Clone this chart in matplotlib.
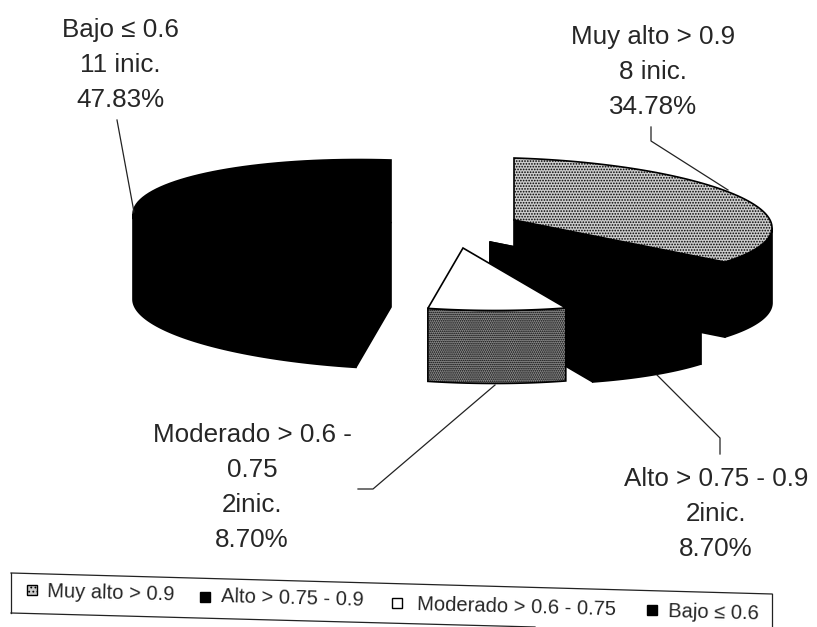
import numpy as np
import matplotlib
matplotlib.use('Agg')
import matplotlib.pyplot as plt
from matplotlib.patches import Polygon

plt.rcParams['font.family'] = ['Liberation Sans', 'DejaVu Sans']
plt.rcParams['hatch.linewidth'] = 0.8

categories = ['Muy alto > 0.9', 'Alto > 0.75 - 0.9', 'Moderado > 0.6 - 0.75', 'Bajo ≤ 0.6']
label_names = ['Muy alto > 0.9', 'Alto > 0.75 - 0.9', 'Moderado > 0.6 -\n0.75', 'Bajo ≤ 0.6']
counts = [8, 2, 2, 11]
count_text = ['8 inic.', '2inic.', '2inic.', '11 inic.']
percents = [34.78, 8.70, 8.70, 47.83]

# slice geometry, in figure pixels
centers = [(514, 220), (490, 242), (463, 248), (391, 222)]
depths = [75, 80, 73, 85]
RX, RY, TILT = 258, 62, 0.03

fig = plt.figure(figsize=(8.17, 6.27), dpi=100)
ax = fig.add_axes([0, 0, 1, 1])
ax.set_xlim(0, 817)
ax.set_ylim(627, 0)
ax.axis('off')

edges = np.concatenate([[0], np.cumsum(counts)]) / sum(counts) * 2 * np.pi


def rim(center, t):
    dx = RX * np.sin(t)
    return center[0] + dx, center[1] - RY * np.cos(t) + TILT * dx


def wedge_parts(i):
    c, d = centers[i], depths[i]
    t = np.linspace(edges[i], edges[i + 1], 80)
    x, y = rim(c, t)
    top = np.column_stack([np.r_[c[0], x], np.r_[c[1], y]])
    # only the front half of the rim has a visible wall
    tf = np.linspace(max(edges[i], np.pi / 2), min(edges[i + 1], 3 * np.pi / 2), 80)
    xf, yf = rim(c, tf)
    wall = np.column_stack([np.r_[xf, xf[::-1]], np.r_[yf, yf[::-1] + d]])
    # radial faces, both ends of the slice
    r1 = [c, (x[0], y[0]), (x[0], y[0] + d), (c[0], c[1] + d)]
    r2 = [c, (x[-1], y[-1]), (x[-1], y[-1] + d), (c[0], c[1] + d)]
    return top, wall, r1, r2


def fill(pts, fc='black', hatch=None, lw=1.2, z=2):
    ax.add_patch(Polygon(pts, closed=True, facecolor=fc, edgecolor='black', hatch=hatch, linewidth=lw, zorder=z))


# Bajo: solid black
top, wall, r1, r2 = wedge_parts(3)
fill(wall); fill(r1); fill(top)

# Muy alto: dark sides, dotted top
top, wall, r1, r2 = wedge_parts(0)
fill(wall); fill(r2)
fill(top, fc='#cccccc', hatch='......', z=3)

# Alto: solid black
top, wall, r1, r2 = wedge_parts(1)
fill(wall, z=4); fill(r1, z=4); fill(r2, z=4); fill(top, z=4)

# Moderado: white top, dark dotted front
top, wall, r1, r2 = wedge_parts(2)
fill(wall, fc='#8f8f8f', hatch='........', z=5)
fill(top, fc='white', z=5)

# leader lines
leaders = [
    ([651, 651, 728], [127, 141, 190]),
    ([657, 720, 720], [375, 438, 454]),
    ([495, 373, 358], [385, 489, 489]),
    ([117, 134], [120, 212]),
]
for lx, ly in leaders:
    ax.plot(lx, ly, color='#222222', lw=0.9, zorder=6)

# data labels
label_pos = [(653, 25), (716, 467), (252, 423), (120, 18)]
for i, (px, py) in enumerate(label_pos):
    txt = f'{label_names[i]}\n{count_text[i]}\n{percents[i]:.2f}%'
    ax.text(px, py, txt, ha='center', va='top', fontsize=18.7, color='#262626', linespacing=1.58, zorder=7)

# legend frame, running slightly downhill
ax.plot([11, 772], [573, 594], color='#222222', lw=0.9)
ax.plot([11, 535], [613, 627], color='#222222', lw=0.9)
ax.plot([11, 11], [573, 613], color='#222222', lw=0.9)
ax.plot([772, 772], [594, 627], color='#222222', lw=0.9)

swatch_x = [27, 200, 392, 647]
swatch_y = [585, 592, 598, 605]
swatch_size = 10
text_x = [47, 221, 417, 668]
text_y = [592, 597, 605, 612]
swatch_fill = ['#cccccc', 'black', 'white', 'black']
swatch_hatch = ['....', None, None, None]
for i in range(4):
    sx, sy = swatch_x[i], swatch_y[i]
    s = swatch_size
    ax.add_patch(Polygon([(sx, sy), (sx + s, sy), (sx + s, sy + s), (sx, sy + s)], closed=True,
                         facecolor=swatch_fill[i], edgecolor='black', hatch=swatch_hatch[i], linewidth=1))
    ax.text(text_x[i], text_y[i], categories[i], ha='left', va='center', fontsize=14.5, color='#262626',
            rotation=-1.5, rotation_mode='anchor')

fig.savefig('out.png', dpi=100, facecolor='white')
